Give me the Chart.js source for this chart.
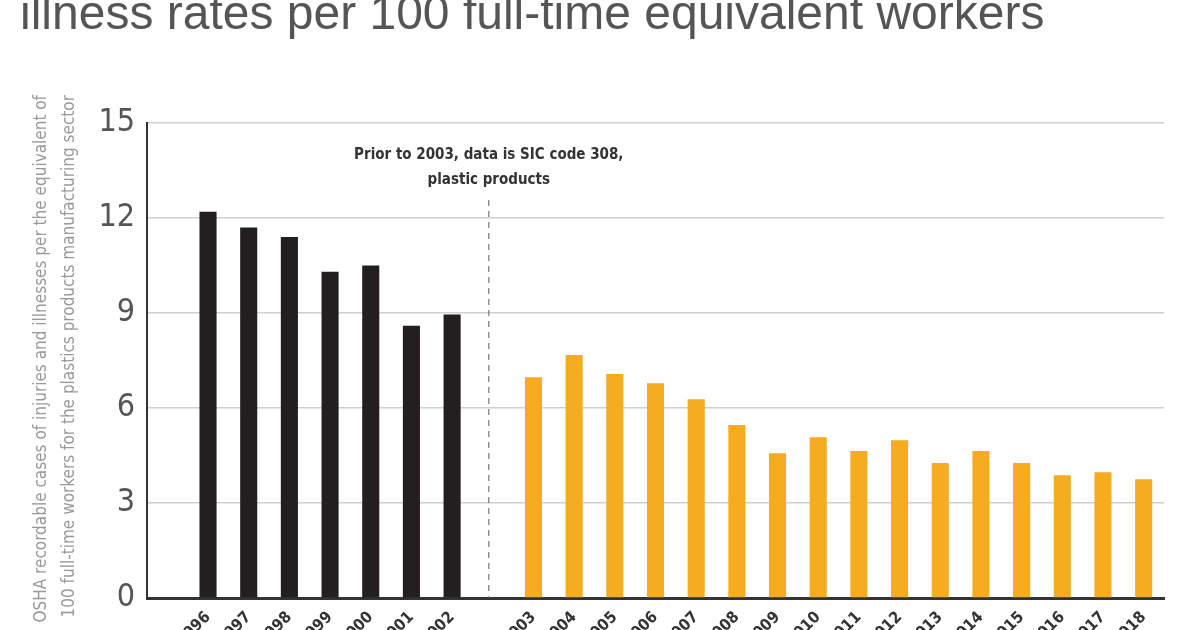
<!DOCTYPE html>
<html><head><meta charset="utf-8">
<script src="https://cdn.jsdelivr.net/npm/chart.js@4"></script>
<style>html,body{margin:0;padding:0;overflow:hidden;background:#fff;width:1200px;height:630px}</style>
</head><body>
<canvas id="c" width="1200" height="680" style="width:1200px;height:680px"></canvas>
<script>
const years = ['', '1996','1997','1998','1999','2000','2001','2002','', '2003','2004','2005','2006','2007','2008','2009','2010','2011','2012','2013','2014','2015','2016','2017','2018'];
const sic308Rates = [null, 12.2,11.7,11.4,10.3,10.5,8.6,8.95,null, null,null,null,null,null,null,null,null,null,null,null,null,null,null,null,null];
const plasticsRates = [null, null,null,null,null,null,null,null,null, 6.97,7.67,7.07,6.78,6.28,5.46,4.57,5.08,4.64,4.98,4.26,4.64,4.26,3.88,3.97,3.75];
const yTicks = [0,3,6,9,12,15];
const titleText = 'illness rates per 100 full-time equivalent workers';
const yTitle = ['OSHA recordable cases of injuries and illnesses per the equivalent of', '100 full-time workers for the plastics products manufacturing sector'];
const noteText = ['Prior to 2003, data is SIC code 308,', 'plastic products'];
const gapIndex = 8;

const deco = {
  id:'deco',
  afterDraw(ch){
    const c = ch.ctx, x = ch.scales.x, y = ch.scales.y;
    c.save();
    c.fillStyle='#555'; c.font='300 48px "Liberation Sans", sans-serif'; c.textBaseline='middle'; c.textAlign='left';
    c.fillText(titleText, 20, 16);
    const gx = x.getPixelForValue(gapIndex) - 4;
    c.strokeStyle='#777'; c.lineWidth=1.2; c.setLineDash([6,5]);
    c.beginPath(); c.moveTo(gx, 200); c.lineTo(gx, y.getPixelForValue(0)); c.stroke();
    c.setLineDash([]);
    c.fillStyle='#333'; c.font='bold 15px "Liberation Sans Narrow", "DejaVu Sans Condensed", sans-serif'; c.textAlign='center';
    c.fillText(noteText[0], gx, 155); c.fillText(noteText[1], gx, 180);
    c.fillStyle='#999'; c.font='17px "Liberation Sans Narrow", "DejaVu Sans Condensed", sans-serif'; c.textAlign='right';
    [[42,yTitle[0]],[70,yTitle[1]]].forEach(([px,t])=>{ c.save(); c.translate(px,95); c.rotate(-Math.PI/2); c.textBaseline='middle'; c.fillText(t,0,0); c.restore(); });
    c.restore();
  }
};

new Chart(document.getElementById('c'), {
  type:'bar',
  data:{labels:years, datasets:[
    {data:sic308Rates, backgroundColor:'#231f20', barPercentage:0.42, categoryPercentage:1},
    {data:plasticsRates, backgroundColor:'#f6ac1f', barPercentage:0.42, categoryPercentage:1}
  ]},
  options:{
    responsive:false, animation:false,
    layout:{padding:{top:123,right:36,left:0,bottom:0}},
    plugins:{legend:{display:false},tooltip:{enabled:false}},
    datasets:{bar:{grouped:false}},
    scales:{
      x:{grid:{display:false}, border:{color:'#333',width:3},
         ticks:{color:'#333',font:{weight:'bold',size:16,family:'"DejaVu Sans Condensed", sans-serif'},minRotation:45,maxRotation:45,autoSkip:false,padding:2},
         afterFit(s){s.height=82;}},
      y:{min:0,max:15, afterBuildTicks(s){s.ticks=yTicks.map(v=>({value:v}));},
         grid:{color:'#d0d0d0',lineWidth:1.5,drawTicks:false}, border:{color:'#333',width:2},
         ticks:{color:'#555',padding:12,font:{size:32,family:'"Liberation Sans Narrow", "DejaVu Sans Condensed", sans-serif'}},
         afterFit(s){s.width=147;}}
    }
  },
  plugins:[deco]
});
</script>
</body></html>
